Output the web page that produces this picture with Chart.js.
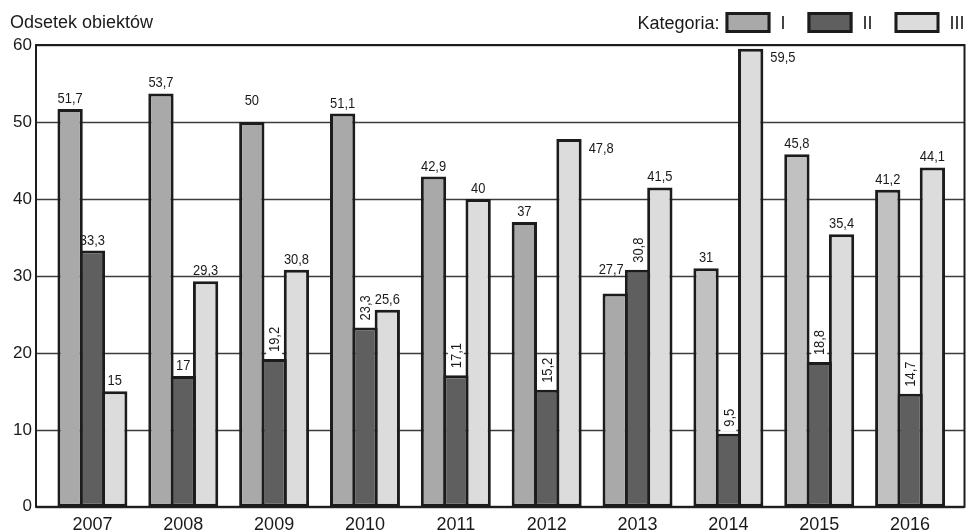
<!DOCTYPE html>
<html lang="pl">
<head>
<meta charset="UTF-8">
<title>Odsetek obiektów</title>
<script src="https://cdn.jsdelivr.net/npm/chart.js"></script>
<style>
  body { margin: 0; background: #fff; }
  canvas { display: block; }
</style>
</head>
<body>
<canvas id="wykres" width="966" height="532"></canvas>
<script>
// dane
const lata = ['2007', '2008', '2009', '2010', '2011', '2012', '2013', '2014', '2015', '2016'];
const kategoriaI = [51.7, 53.7, 50, 51.1, 42.9, 37, 27.7, 31, 45.8, 41.2];
const kategoriaII = [33.3, 17, 19.2, 23.3, 17.1, 15.2, 30.8, 9.5, 18.8, 14.7];
const kategoriaIII = [15, 29.3, 30.8, 25.6, 40, 47.8, 41.5, 59.5, 35.4, 44.1];
const nazwyKategorii = ['I', 'II', 'III'];
const osY = { min: 0, max: 60, krok: 10 };

// wygląd
const kolory = ['#a9a9a9', '#5f5f5f', '#dcdcdc'];
const kolorIPozniej = '#c1c1c1';   // jaśniejsze słupki kat. I od 2014
const obrys = '#1c1c1c';
const czcionka = '"Liberation Sans", Arial, sans-serif';
const czcionkaWartosci = '15px "Liberation Sans", Arial, sans-serif';
const zwezenie = 0.86;             // wartości pisane węższym krojem

// nietypowe położenie niektórych etykiet
const polozenieEtykiet = {
  '0-2': { podniesienie: 11 },
  '0-6': { podniesienie: 14, przesuniecie: -4 },
  '2-5': { strona: 'prawo' },
  '2-7': { strona: 'prawo' }
};
const pionowa = (d, i) => d === 1 && i >= 2;

const fmt = v => String(v).replace('.', ',');

function piszWasko(ctx, txt, x, y) {
  ctx.save();
  ctx.translate(x, y);
  ctx.scale(zwezenie, 1);
  ctx.fillText(txt, 0, 0);
  ctx.restore();
}

// ramka i linie siatki szersze niż obszar słupków
const ramka = {
  id: 'ramka',
  beforeDatasetsDraw(chart) {
    const { ctx, chartArea: a, scales: { y } } = chart;
    const lewa = a.left - 11, prawa = a.right + 9;
    ctx.save();
    ctx.strokeStyle = '#3c3c3c';
    ctx.lineWidth = 1.3;
    y.ticks.forEach(t => {
      const py = Math.round(y.getPixelForValue(t.value)) + 0.5;
      ctx.beginPath();
      ctx.moveTo(lewa, py);
      ctx.lineTo(prawa, py);
      ctx.stroke();
    });
    ctx.strokeStyle = obrys;
    ctx.lineWidth = 2;
    const gora = y.getPixelForValue(osY.max), dol = y.getPixelForValue(osY.min);
    ctx.strokeRect(lewa, gora, prawa - lewa, dol - gora);
    ctx.restore();
  }
};

// wartości nad słupkami
const wartosci = {
  id: 'wartosci',
  afterDatasetsDraw(chart) {
    const { ctx } = chart;
    ctx.save();
    ctx.font = czcionkaWartosci;
    ctx.fillStyle = '#1a1a1a';
    chart.data.datasets.forEach((ds, d) => {
      chart.getDatasetMeta(d).data.forEach((bar, i) => {
        const { x, y, width } = bar.getProps(['x', 'y', 'width'], true);
        const txt = fmt(ds.data[i]);
        const p = polozenieEtykiet[d + '-' + i] || {};
        if (pionowa(d, i)) {
          const w = ctx.measureText(txt).width * zwezenie;
          ctx.save();
          ctx.translate(x, y - 7);
          ctx.rotate(-Math.PI / 2);
          ctx.fillStyle = '#fff';
          ctx.fillRect(-5, -8, w + 7, 16);
          ctx.fillStyle = '#1a1a1a';
          ctx.textAlign = 'left';
          ctx.textBaseline = 'middle';
          piszWasko(ctx, txt, 0, 1);
          ctx.restore();
        } else if (p.strona === 'prawo') {
          ctx.textAlign = 'left';
          ctx.textBaseline = 'top';
          piszWasko(ctx, txt, x + width / 2 + 7, y + 2);
        } else {
          ctx.textAlign = 'center';
          ctx.textBaseline = 'alphabetic';
          piszWasko(ctx, txt, x + (p.przesuniecie || 0), y - 6 - (p.podniesienie || 0));
        }
      });
    });
    ctx.restore();
  }
};

// tytuł osi i legenda w górnym wierszu
const naglowek = {
  id: 'naglowek',
  afterDraw(chart) {
    const { ctx, chartArea: a } = chart;
    ctx.save();
    ctx.font = '18px ' + czcionka;
    ctx.fillStyle = '#1a1a1a';
    ctx.textBaseline = 'alphabetic';
    ctx.textAlign = 'left';
    ctx.fillText('Odsetek obiektów', 10, 28);

    const bw = 45, bh = 21, gy = 12;
    let x = a.right + 9;
    const pozycje = [];
    for (let k = chart.data.datasets.length - 1; k >= 0; k--) {
      const tw = ctx.measureText(chart.data.datasets[k].label).width;
      x -= tw;
      const tx = x;
      x -= 10 + bw;
      pozycje.unshift({ k, bx: x, tx });
      x -= 22;
    }
    pozycje.forEach(({ k, bx, tx }) => {
      ctx.fillStyle = kolory[k];
      ctx.fillRect(bx, gy, bw, bh);
      ctx.strokeStyle = obrys;
      ctx.lineWidth = 3;
      ctx.strokeRect(bx + 1.5, gy + 1.5, bw - 3, bh - 3);
      ctx.fillStyle = '#1a1a1a';
      ctx.fillText(chart.data.datasets[k].label, tx, 29);
    });
    ctx.textAlign = 'right';
    ctx.fillText('Kategoria:', pozycje[0].bx - 6, 29);
    ctx.restore();
  }
};

const zbior = (label, data, kolor) => ({
  label,
  data,
  backgroundColor: kolor,
  borderColor: obrys,
  borderWidth: 3,
  borderSkipped: false,
  categoryPercentage: 0.737,
  barPercentage: 1.135
});

new Chart(document.getElementById('wykres'), {
  type: 'bar',
  data: {
    labels: lata,
    datasets: [
      zbior(nazwyKategorii[0], kategoriaI, c => (c.dataIndex >= 7 ? kolorIPozniej : kolory[0])),
      zbior(nazwyKategorii[1], kategoriaII, kolory[1]),
      zbior(nazwyKategorii[2], kategoriaIII, kolory[2])
    ]
  },
  options: {
    responsive: false,
    animation: false,
    devicePixelRatio: 1,
    layout: { padding: { top: 45, right: 10.5, bottom: 0, left: 0 } },
    plugins: {
      legend: { display: false },
      title: { display: false },
      tooltip: { enabled: false }
    },
    scales: {
      x: {
        grid: { display: false, drawTicks: false },
        border: { display: false },
        ticks: { color: '#1a1a1a', font: { family: czcionka, size: 18 }, padding: 7 },
        afterFit: s => { s.height = 24; }
      },
      y: {
        min: osY.min,
        max: osY.max,
        grid: { display: false, drawTicks: false },
        border: { display: false },
        ticks: { stepSize: osY.krok, color: '#1a1a1a', font: { family: czcionka, size: 17 }, padding: 15 },
        afterFit: s => { s.width = 47; }
      }
    }
  },
  plugins: [ramka, wartosci, naglowek]
});
</script>
</body>
</html>
